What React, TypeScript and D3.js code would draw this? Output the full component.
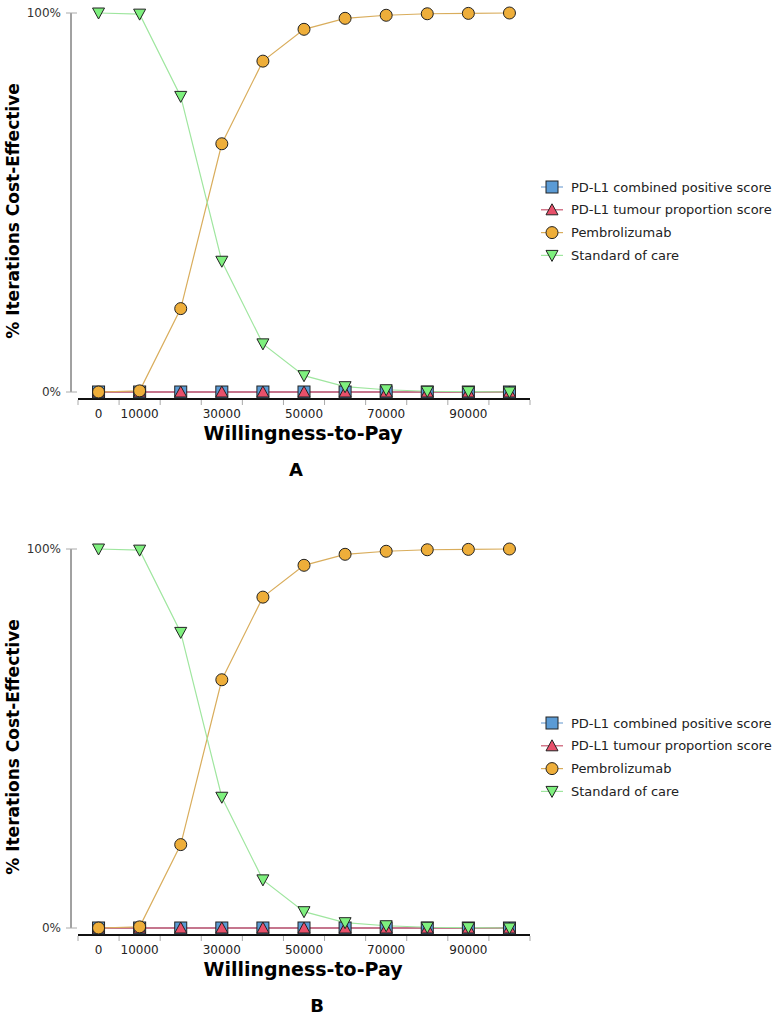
import React from 'react';
import * as d3 from 'd3';

// willingness-to-pay steps (x categories)
const wtp = [0, 10000, 20000, 30000, 40000, 50000, 60000, 70000, 80000, 90000, 100000];
const tickLabels = ['0', '10000', '', '30000', '', '50000', '', '70000', '', '90000', ''];
const yTicks = [0, 100];

// % iterations cost-effective, panel A
const cpsA = [0, 0, 0, 0, 0, 0, 0, 0, 0, 0, 0];
const tpsA = [0, 0, 0, 0, 0, 0, 0, 0, 0, 0, 0];
const pembroA = [0, 0.3, 22, 65.5, 87.3, 95.7, 98.6, 99.4, 99.8, 99.9, 100];
const socA = [100, 99.7, 78, 34.5, 12.7, 4.3, 1.4, 0.6, 0.2, 0.1, 0];

// panel B
const cpsB = [0, 0, 0, 0, 0, 0, 0, 0, 0, 0, 0];
const tpsB = [0, 0, 0, 0, 0, 0, 0, 0, 0, 0, 0];
const pembroB = [0, 0.3, 22, 65.5, 87.3, 95.7, 98.6, 99.4, 99.8, 99.9, 100];
const socB = [100, 99.7, 78, 34.5, 12.7, 4.3, 1.4, 0.6, 0.2, 0.1, 0];

const seriesNames = [
  'PD-L1 combined positive score',
  'PD-L1 tumour proportion score',
  'Pembrolizumab',
  'Standard of care',
];

const styles = [
  { line: '#7aa6d6', fill: '#5b9bd5', shape: 'square' },
  { line: '#c9566e', fill: '#e8506a', shape: 'up' },
  { line: '#d9ad5c', fill: '#eeae3a', shape: 'circle' },
  { line: '#9fe69f', fill: '#7ef07e', shape: 'down' },
];

const FONT = 'DejaVu Sans, Verdana, sans-serif';

function Marker({ shape, fill, x, y }) {
  const stroke = '#222';
  if (shape === 'square') {
    return <rect x={x - 6} y={y - 6} width={12} height={12} fill={fill} stroke={stroke} strokeWidth={1} />;
  }
  if (shape === 'circle') {
    return <circle cx={x} cy={y} r={6} fill={fill} stroke={stroke} strokeWidth={1} />;
  }
  const d = shape === 'up'
    ? `M${x},${y - 6}L${x + 6},${y + 5}L${x - 6},${y + 5}Z`
    : `M${x - 6},${y - 5}L${x + 6},${y - 5}L${x},${y + 6}Z`;
  return <path d={d} fill={fill} stroke={stroke} strokeWidth={1} />;
}

function Panel({ top, letter, letterX, series }) {
  const x = d3.scaleBand().domain(wtp.map(String)).range([78, 530]);
  const y = d3.scaleLinear().domain([0, 100]).range([top + 379, top]);
  const cx = (i) => x(String(wtp[i])) + x.bandwidth() / 2;
  const line = d3.line().x((d, i) => cx(i)).y(d => y(d));
  const axisY = top + 386;
  const bounds = wtp.map(v => x(String(v))).concat([530]);
  const legendTop = top + 174;

  return (
    <g>
      {/* y axis */}
      <line x1={71} x2={71} y1={top} y2={top + 379} stroke="#444" strokeWidth={1} />
      {yTicks.map(t => (
        <g key={t}>
          <line x1={66} x2={77} y1={y(t)} y2={y(t)} stroke="#aaa" strokeWidth={1} />
          <text x={61} y={y(t)} dy="0.35em" textAnchor="end" fontSize={12} fontFamily={FONT} fill="#333">{t}%</text>
        </g>
      ))}
      <text
        transform={`translate(19, ${top + 198}) rotate(-90)`}
        textAnchor="middle" fontSize={17} fontWeight="bold" fontFamily={FONT} fill="#000"
      >% Iterations Cost-Effective</text>

      {/* x axis */}
      <line x1={78} x2={530} y1={axisY} y2={axisY} stroke="#111" strokeWidth={2} />
      {bounds.map((b, i) => (
        <line key={i} x1={b} x2={b} y1={axisY + 1} y2={axisY + 6} stroke="#aaa" strokeWidth={1} />
      ))}
      {tickLabels.map((l, i) => l && (
        <text key={i} x={cx(i)} y={axisY + 15} dy="0.35em" textAnchor="middle" fontSize={12} fontFamily={FONT} fill="#222">{l}</text>
      ))}
      <text x={303} y={top + 420} dy="0.35em" textAnchor="middle" fontSize={19} fontWeight="bold" fontFamily={FONT} fill="#000">Willingness-to-Pay</text>

      {/* series */}
      {series.map((vals, s) => (
        <path key={s} d={line(vals)} fill="none" stroke={styles[s].line} strokeWidth={s === 1 ? 1.5 : 1.2} />
      ))}
      {series.map((vals, s) => (
        <g key={s}>
          {vals.map((v, i) => (
            <Marker key={i} shape={styles[s].shape} fill={styles[s].fill} x={cx(i)} y={y(v)} />
          ))}
        </g>
      ))}

      {/* legend */}
      {seriesNames.map((n, s) => {
        const ly = legendTop + s * 22.8;
        return (
          <g key={n}>
            <line x1={541} x2={563} y1={ly} y2={ly} stroke={styles[s].line} strokeWidth={1.2} />
            <Marker shape={styles[s].shape} fill={styles[s].fill} x={552} y={ly} />
            <text x={571} y={ly} dy="0.35em" fontSize={13} fontFamily={FONT} fill="#222">{n}</text>
          </g>
        );
      })}

      <text x={letterX} y={top + 457} dy="0.35em" textAnchor="middle" fontSize={18} fontWeight="bold" fontFamily={FONT} fill="#000">{letter}</text>
    </g>
  );
}

export default function App() {
  return (
    <svg
      width={773}
      height={1019}
      style={{ position: 'absolute', left: 0, top: 0, background: '#fff' }}
    >
      <Panel top={13} letter="A" letterX={296} series={[cpsA, tpsA, pembroA, socA]} />
      <Panel top={549} letter="B" letterX={317} series={[cpsB, tpsB, pembroB, socB]} />
    </svg>
  );
}
